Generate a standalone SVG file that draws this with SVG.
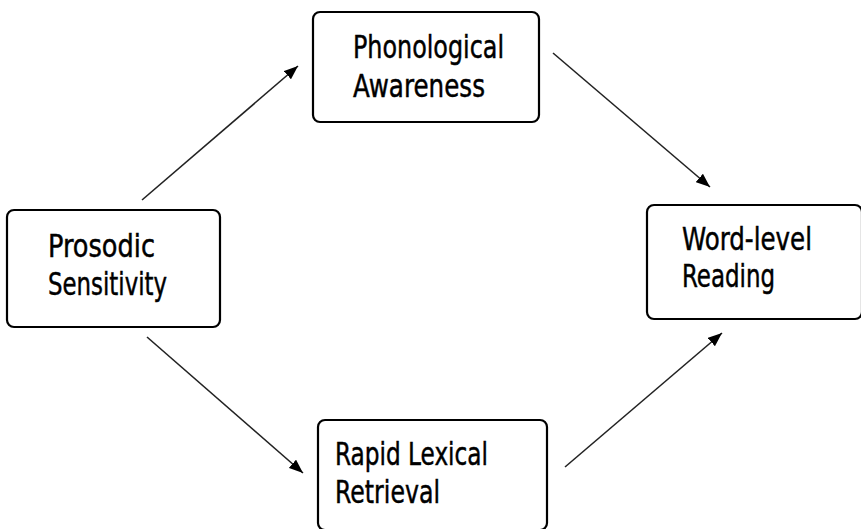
<svg xmlns="http://www.w3.org/2000/svg" width="861" height="529" viewBox="0 0 861 529">
<defs>
<style>
.box{fill:#fff;stroke:#000;stroke-width:2.2}
.lbl{font-family:"DejaVu Sans Condensed","DejaVu Sans",sans-serif;font-size:32px;fill:#000;stroke:#000;stroke-width:0.45}
.edge{stroke:#222;stroke-width:1.6;fill:none;marker-end:url(#ah)}
</style>
<marker id="ah" viewBox="0 0 10 10" refX="10" refY="5" markerWidth="14" markerHeight="11" markerUnits="userSpaceOnUse" orient="auto" preserveAspectRatio="none">
<path d="M0,0 L10,5 L0,10 z" fill="#000"/>
</marker>
</defs>
<rect width="861" height="529" fill="#fff"/>
<g id="connectors">
<line class="edge" x1="142" y1="200" x2="298" y2="66"/>
<line class="edge" x1="553" y1="53" x2="710" y2="187"/>
<line class="edge" x1="147" y1="337" x2="303" y2="473"/>
<line class="edge" x1="565" y1="467" x2="722" y2="333"/>
</g>
<g id="phonological">
<rect class="box" x="313" y="12" width="226" height="110" rx="7"/>
<text class="lbl" x="353" y="58" textLength="151" lengthAdjust="spacingAndGlyphs">Phonological</text>
<text class="lbl" x="353" y="97" textLength="132" lengthAdjust="spacingAndGlyphs">Awareness</text>
</g>
<g id="prosodic">
<rect class="box" x="7" y="210" width="213" height="117" rx="7"/>
<text class="lbl" x="48" y="257" textLength="107" lengthAdjust="spacingAndGlyphs">Prosodic</text>
<text class="lbl" x="48" y="295" textLength="119" lengthAdjust="spacingAndGlyphs">Sensitivity</text>
</g>
<g id="rapid">
<rect class="box" x="318" y="420" width="229" height="110" rx="7"/>
<text class="lbl" x="335" y="465" textLength="153" lengthAdjust="spacingAndGlyphs">Rapid Lexical</text>
<text class="lbl" x="335" y="503" textLength="105" lengthAdjust="spacingAndGlyphs">Retrieval</text>
</g>
<g id="wordlevel">
<rect class="box" x="647" y="205" width="215" height="114" rx="7"/>
<text class="lbl" x="682" y="250" textLength="130" lengthAdjust="spacingAndGlyphs">Word-level</text>
<text class="lbl" x="682" y="287" textLength="93" lengthAdjust="spacingAndGlyphs">Reading</text>
</g>
</svg>
